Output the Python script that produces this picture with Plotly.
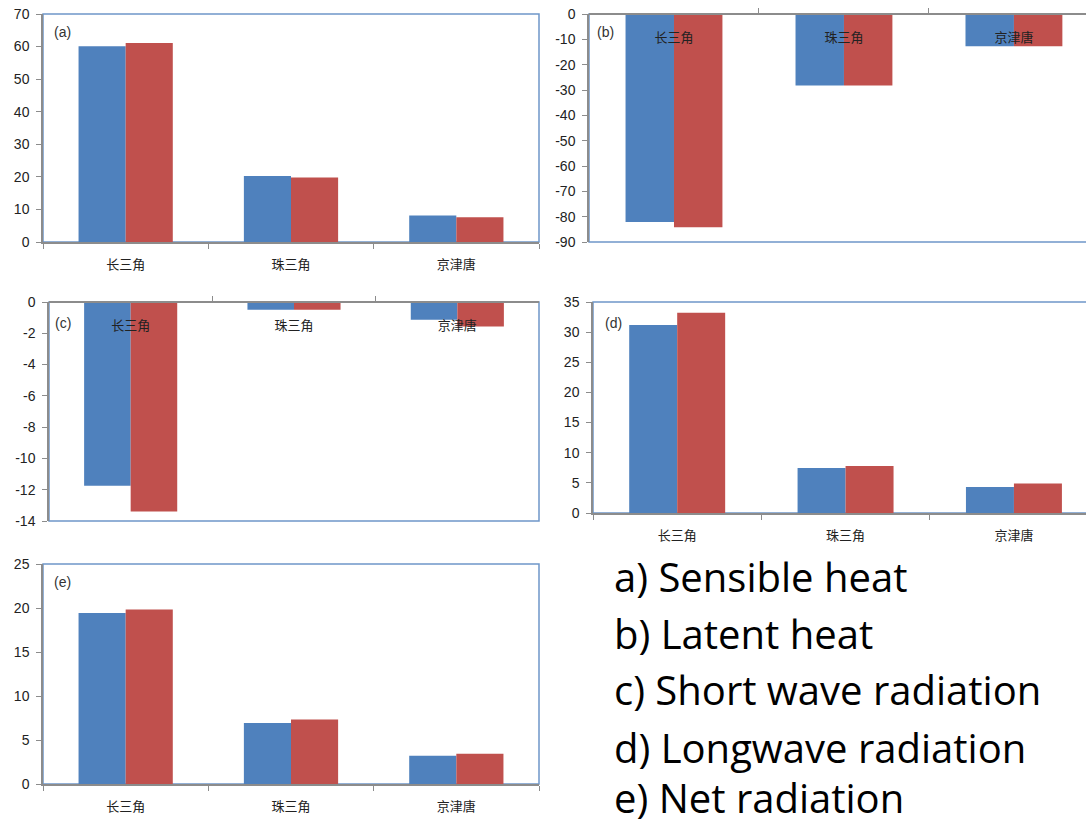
import plotly.graph_objects as go

W, H = 1086, 826

categories = ["长三角", "珠三角", "京津唐"]

a_blue = [60.1, 20.3, 8.1]
a_red = [61.1, 19.8, 7.6]
b_blue = [-82.1, -28.2, -12.7]
b_red = [-84.2, -28.2, -12.7]
c_blue = [-11.74, -0.49, -1.14]
c_red = [-13.4, -0.49, -1.56]
d_blue = [31.2, 7.47, 4.3]
d_red = [33.2, 7.8, 4.9]
e_blue = [19.44, 6.92, 3.2]
e_red = [19.82, 7.34, 3.44]

a_ticks = [0, 10, 20, 30, 40, 50, 60, 70]
b_ticks = [0, -10, -20, -30, -40, -50, -60, -70, -80, -90]
c_ticks = [0, -2, -4, -6, -8, -10, -12, -14]
d_ticks = [0, 5, 10, 15, 20, 25, 30, 35]
e_ticks = [0, 5, 10, 15, 20, 25]

panel_tags = ["(a)", "(b)", "(c)", "(d)", "(e)"]
legend_lines = ["a) Sensible heat", "b) Latent heat", "c) Short wave radiation",
                "d) Longwave radiation", "e) Net radiation"]

BLUE = "#4F81BD"
RED = "#C0504D"
AXIS = "#8C8C8C"
BORDER = "#6F97C9"
TICKFONT = dict(family="Liberation Sans, Arial, sans-serif", size=14, color="#222222")
CATFONT = dict(family="Noto Sans CJK SC, sans-serif", size=13, color="#222222")

panels = [
    dict(blue=a_blue, red=a_red, ticks=a_ticks, l=43, r=539, t=14, b=242, xend=2.5, top=False, tag=(52, 32)),
    dict(blue=b_blue, red=b_red, ticks=b_ticks, l=589, r=1086, t=14, b=242, xend=2.424, top=True, tag=(595, 32)),
    dict(blue=c_blue, red=c_red, ticks=c_ticks, l=49, r=539, t=302, b=521, xend=2.5, top=True, tag=(53, 323)),
    dict(blue=d_blue, red=d_red, ticks=d_ticks, l=593, r=1086, t=302, b=513, xend=2.428, top=False, tag=(603, 323)),
    dict(blue=e_blue, red=e_red, ticks=e_ticks, l=43, r=539, t=564, b=784, xend=2.5, top=False, tag=(52, 582)),
]

fig = go.Figure()
layout = dict(
    width=W, height=H,
    margin=dict(l=0, r=0, t=0, b=0, autoexpand=False),
    paper_bgcolor="white", plot_bgcolor="white",
    showlegend=False, barmode="group", bargap=0.43, bargroupgap=0,
)
shapes = []
annotations = []

for i, p in enumerate(panels):
    n = "" if i == 0 else str(i + 1)
    xa, ya = "x" + n, "y" + n
    fig.add_trace(go.Bar(x=categories, y=p["blue"], marker=dict(color=BLUE, line=dict(width=0)),
                         xaxis=xa, yaxis=ya))
    fig.add_trace(go.Bar(x=categories, y=p["red"], marker=dict(color=RED, line=dict(width=0)),
                         xaxis=xa, yaxis=ya))
    xdom = [p["l"] / W, p["r"] / W]
    ydom = [1 - p["b"] / H, 1 - p["t"] / H]
    xaxis = dict(
        domain=xdom, type="category", range=[-0.5, p["xend"]], automargin=False,
        showline=True, linecolor=AXIS, linewidth=1.5,
        tickson="boundaries", ticklen=5, tickcolor=AXIS, tickwidth=1,
        tickfont=CATFONT, showgrid=False, zeroline=False, fixedrange=True,
        ticklabelstandoff=10,
    )
    if p["top"]:
        xaxis.update(anchor="free", position=ydom[1], side="bottom", ticks="inside",
                     ticklabelstandoff=12)
    else:
        xaxis.update(anchor=ya, ticks="outside")
    tv = p["ticks"]
    yaxis = dict(
        domain=ydom, anchor=xa, range=[min(tv), max(tv)], automargin=False,
        tickmode="array", tickvals=tv, ticktext=[str(v) for v in tv],
        showline=True, linecolor=AXIS, linewidth=1.5,
        ticks="outside", ticklen=5, tickcolor=AXIS, tickwidth=1,
        tickfont=TICKFONT, showgrid=False, zeroline=False, fixedrange=True,
        ticklabelstandoff=4,
    )
    layout["xaxis" + n] = xaxis
    layout["yaxis" + n] = yaxis
    x1 = 1.03 if p["r"] >= W else 1
    shapes.append(dict(type="rect", xref=xa + " domain", yref=ya + " domain",
                       x0=0, x1=x1, y0=0, y1=1, line=dict(color=BORDER, width=1.5),
                       fillcolor="rgba(0,0,0,0)", layer="below"))
    annotations.append(dict(text=panel_tags[i], xref="paper", yref="paper",
                            x=p["tag"][0] / W, y=1 - p["tag"][1] / H,
                            xanchor="left", yanchor="middle", showarrow=False,
                            font=dict(family="Liberation Sans, Arial, sans-serif", size=14, color="#333333")))

line_centers = [576, 633, 689, 747, 797]
for txt, yc in zip(legend_lines, line_centers):
    annotations.append(dict(text=txt, xref="paper", yref="paper",
                            x=612 / W, y=1 - yc / H,
                            xanchor="left", yanchor="middle", showarrow=False,
                            font=dict(family="Open Sans, sans-serif", size=40, color="black")))

layout["shapes"] = shapes
layout["annotations"] = annotations
fig.update_layout(**layout)
fig.write_html("out.html", config={"displayModeBar": False},
               post_script="document.body.style.margin='0';document.body.style.overflow='hidden';")
